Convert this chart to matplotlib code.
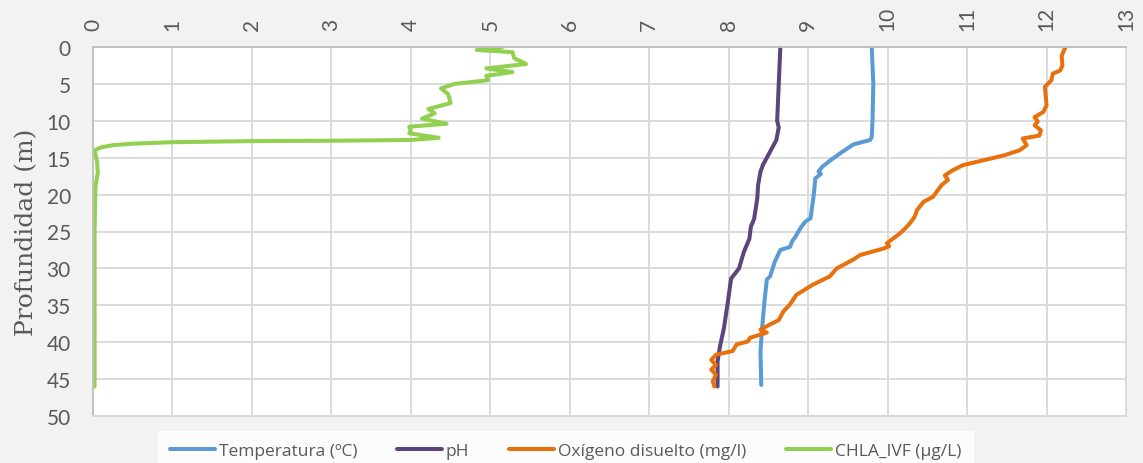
import numpy as np
import matplotlib
matplotlib.use("Agg")
import matplotlib.pyplot as plt

# depth profiles (depth in m)
temp_depth = [0, 5, 10, 12.2, 12.6, 13.2, 14.2, 15.2, 16.2, 16.9, 17.2, 17.8, 20.1, 23.2, 23.7, 24.6, 25.7, 26.3, 27.1, 27.5, 29.1, 31.1, 31.5, 34.5, 38.1, 41.3, 45.8]
temp_vals = [9.80, 9.82, 9.81, 9.80, 9.78, 9.57, 9.43, 9.30, 9.18, 9.13, 9.16, 9.09, 9.07, 9.03, 8.96, 8.90, 8.84, 8.80, 8.77, 8.65, 8.58, 8.52, 8.48, 8.45, 8.42, 8.40, 8.41]

ph_depth = [0, 5, 10, 10.9, 12.6, 14.2, 16.0, 16.9, 18.7, 20.5, 23.3, 24.3, 26.0, 27.8, 30.0, 31.4, 34.5, 38.1, 40.6, 42.6, 46.0]
ph_vals = [8.65, 8.63, 8.61, 8.63, 8.60, 8.52, 8.43, 8.40, 8.37, 8.36, 8.32, 8.28, 8.26, 8.19, 8.13, 8.03, 7.99, 7.94, 7.89, 7.86, 7.86]

oxy_depth = [0, 0.2, 1.2, 2.5, 3.2, 3.6, 4.5, 5.4, 7.9, 8.8, 9.5, 10.1, 10.6, 11.3, 12.0, 12.4, 13.3, 14.0, 14.7, 16.0, 16.7, 17.4, 18.0, 18.7, 20.3, 21.0, 22.1, 23.0, 23.9, 24.6, 25.3, 26.6, 27.0, 27.3, 28.2, 28.8, 30.0, 31.1, 32.2, 33.6, 34.9, 35.8, 37.0, 37.6, 38.3, 38.7, 39.4, 39.9, 40.3, 41.2, 41.7, 42.4, 43.1, 43.7, 44.4, 45.3, 46.0]
oxy_vals = [12.24, 12.23, 12.19, 12.20, 12.17, 12.08, 12.06, 11.98, 12.00, 11.96, 11.85, 11.89, 11.85, 11.93, 11.91, 11.70, 11.75, 11.66, 11.46, 10.95, 10.82, 10.72, 10.76, 10.68, 10.57, 10.45, 10.37, 10.34, 10.28, 10.22, 10.15, 9.99, 10.02, 9.95, 9.65, 9.57, 9.36, 9.27, 9.06, 8.85, 8.77, 8.69, 8.63, 8.52, 8.40, 8.48, 8.27, 8.24, 8.10, 8.05, 7.84, 7.78, 7.84, 7.78, 7.84, 7.80, 7.82]

chla_depth = [0, 0.4, 0.7, 1.5, 2.3, 2.9, 3.4, 3.9, 4.5, 5.0, 5.6, 6.4, 7.6, 8.4, 9.0, 9.7, 10.4, 10.8, 11.3, 11.7, 12.3, 12.6, 12.7, 12.75, 12.9, 13.1, 13.3, 13.6, 14.0, 15.5, 17.0, 19.0, 25.0, 35.0, 46.0]
chla_vals = [5.15, 4.83, 5.28, 5.30, 5.45, 4.95, 5.28, 4.95, 4.97, 4.55, 4.38, 4.47, 4.50, 4.22, 4.30, 4.14, 4.45, 3.98, 4.00, 3.98, 4.35, 4.00, 3.00, 2.00, 1.00, 0.50, 0.25, 0.10, 0.02, 0.05, 0.06, 0.03, 0.02, 0.02, 0.02]

labels = ["Temperatura (ºC)", "pH", "Oxígeno disuelto (mg/l)", "CHLA_IVF (µg/L)"]
colors = ["#5b9bd5", "#5a467c", "#e8700d", "#92d050"]

fig = plt.figure(figsize=(11.43, 4.64), dpi=100, facecolor="#f2f2f2")
ax = fig.add_axes([93 / 1143, 1 - 417 / 464, (1126 - 93) / 1143, (417 - 48) / 464])
ax.set_facecolor("white")

series = [(temp_vals, temp_depth), (ph_vals, ph_depth), (oxy_vals, oxy_depth), (chla_vals, chla_depth)]
for (xv, yv), lab, col in zip(series, labels, colors):
    ax.plot(xv, yv, color=col, lw=2.9, label=lab, solid_capstyle="round", solid_joinstyle="round")

ax.set_xlim(0, 13)
ax.set_ylim(50, 0)
ax.set_xticks(np.arange(0, 14, 1))
ax.set_yticks(np.arange(0, 55, 5))
ax.xaxis.tick_top()
ax.grid(True, color="#d9d9d9", lw=1.3)
ax.set_axisbelow(True)
ax.tick_params(length=0, labelsize=15, labelcolor="#595959")
ax.tick_params(axis="x", pad=12, labelrotation=90)
ax.tick_params(axis="y", pad=16)
for t in ax.get_xticklabels() + ax.get_yticklabels():
    t.set_family("Lato")
for side in ["left", "top"]:
    ax.spines[side].set_color("#bfbfbf")
    ax.spines[side].set_linewidth(1.3)
for side in ["right", "bottom"]:
    ax.spines[side].set_color("#d9d9d9")
    ax.spines[side].set_linewidth(1.3)

ax.set_ylabel("Profundidad (m)", family="DejaVu Serif", fontsize=18, color="#595959", labelpad=6)

leg = fig.legend(loc="upper center", bbox_to_anchor=(0.4948, 1 - 432 / 464), ncol=4, frameon=True,
                 fancybox=False, handlelength=2.6, handletextpad=0.2, columnspacing=2.3,
                 borderpad=0.7, borderaxespad=0, prop={"family": "Open Sans", "size": 12.5})
leg.get_frame().set_facecolor("white")
leg.get_frame().set_edgecolor("white")
for t in leg.get_texts():
    t.set_color("#595959")

fig.savefig("out.png", dpi=100, facecolor=fig.get_facecolor())
